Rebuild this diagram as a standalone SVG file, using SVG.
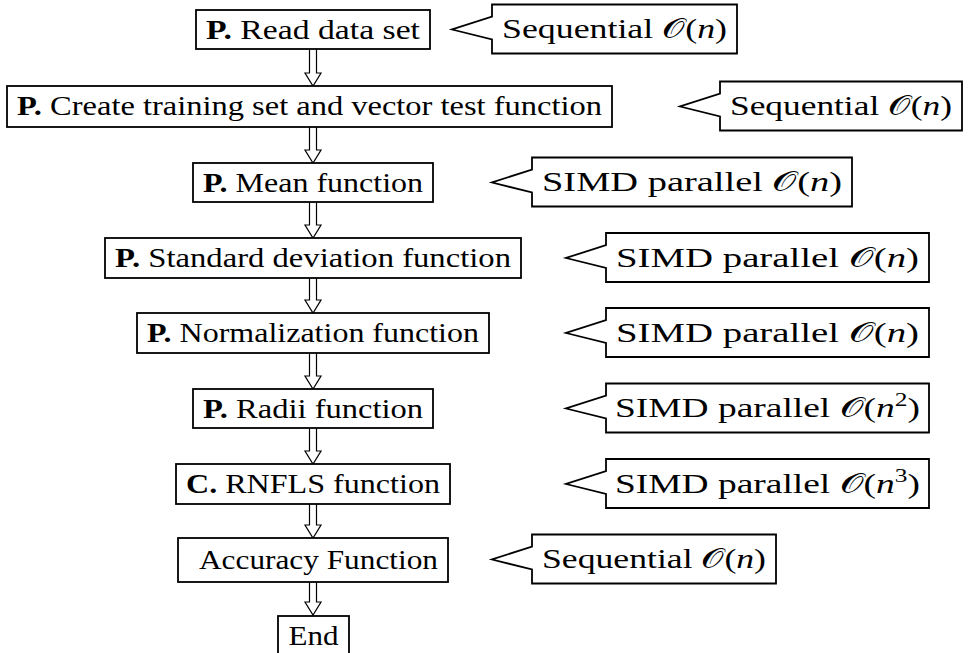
<svg xmlns="http://www.w3.org/2000/svg" width="969" height="653" viewBox="0 0 969 653">
<style>
  .box{fill:#fff;stroke:#000;stroke-width:1.8}
  .call{fill:#fff;stroke:#000;stroke-width:1.8;stroke-linejoin:miter}
  .t{font-family:"Liberation Serif","DejaVu Serif",serif;font-size:28px;fill:#000}
  .c{text-anchor:middle}
  .b{font-weight:bold}
  .i{font-style:italic}
  .arr{fill:#fff;stroke:#000;stroke-width:1.2;stroke-linejoin:miter}
</style>
<rect width="969" height="653" fill="#fff"/>
<g id="connectors">
  <path class="arr" d="M309.5,49 V73 H305 L313,86 L321,73 H316.5 V49"/>
  <path class="arr" d="M309.5,127 V150 H305 L313,163 L321,150 H316.5 V127"/>
  <path class="arr" d="M309.5,202 V225 H305 L313,238 L321,225 H316.5 V202"/>
  <path class="arr" d="M309.5,278 V300 H305 L313,313 L321,300 H316.5 V278"/>
  <path class="arr" d="M309.5,353 V376 H305 L313,389 L321,376 H316.5 V353"/>
  <path class="arr" d="M309.5,428 V451 H305 L313,464 L321,451 H316.5 V428"/>
  <path class="arr" d="M309.5,504 V525 H305 L313,538 L321,525 H316.5 V504"/>
  <path class="arr" d="M309.5,582 V602 H305 L313,615 L321,602 H316.5 V582"/>
</g>
<g id="n1">
  <rect class="box" x="196" y="10" width="234" height="39"/>
  <text class="t c" x="313" y="39" textLength="214" lengthAdjust="spacingAndGlyphs"><tspan class="b">P.</tspan> Read data set</text>
</g>
<g id="c1">
  <path class="call" d="M492,4.5 H737 V53.5 H492 V39.5 L452,29.5 L492,16.5 Z"/>
  <text class="t c" x="614.5" y="38" textLength="225" lengthAdjust="spacingAndGlyphs">Sequential 𝒪(<tspan class="i">n</tspan>)</text>
</g>
<g id="n2">
  <rect class="box" x="7" y="86" width="605" height="41"/>
  <text class="t c" x="309.5" y="115" textLength="585" lengthAdjust="spacingAndGlyphs"><tspan class="b">P.</tspan> Create training set and vector test function</text>
</g>
<g id="c2">
  <path class="call" d="M720,81.5 H962 V130.5 H720 V116.5 L680,106.5 L720,93.5 Z"/>
  <text class="t c" x="841" y="115" textLength="222" lengthAdjust="spacingAndGlyphs">Sequential 𝒪(<tspan class="i">n</tspan>)</text>
</g>
<g id="n3">
  <rect class="box" x="193" y="163" width="240" height="39"/>
  <text class="t c" x="313" y="191.5" textLength="220" lengthAdjust="spacingAndGlyphs"><tspan class="b">P.</tspan> Mean function</text>
</g>
<g id="c3">
  <path class="call" d="M532,157.5 H852 V206.5 H532 V192.5 L492,182.5 L532,169.5 Z"/>
  <text class="t c" x="692" y="191" textLength="300" lengthAdjust="spacingAndGlyphs">SIMD parallel 𝒪(<tspan class="i">n</tspan>)</text>
</g>
<g id="n4">
  <rect class="box" x="105" y="238" width="416" height="40"/>
  <text class="t c" x="313" y="267" textLength="396" lengthAdjust="spacingAndGlyphs"><tspan class="b">P.</tspan> Standard deviation function</text>
</g>
<g id="c4">
  <path class="call" d="M606,233 H929 V282 H606 V268 L566,258 L606,245 Z"/>
  <text class="t c" x="767.5" y="266.5" textLength="303" lengthAdjust="spacingAndGlyphs">SIMD parallel 𝒪(<tspan class="i">n</tspan>)</text>
</g>
<g id="n5">
  <rect class="box" x="137" y="313" width="352" height="40"/>
  <text class="t c" x="313" y="342" textLength="332" lengthAdjust="spacingAndGlyphs"><tspan class="b">P.</tspan> Normalization function</text>
</g>
<g id="c5">
  <path class="call" d="M606,308 H929 V357 H606 V343 L566,333 L606,320 Z"/>
  <text class="t c" x="767.5" y="341.5" textLength="303" lengthAdjust="spacingAndGlyphs">SIMD parallel 𝒪(<tspan class="i">n</tspan>)</text>
</g>
<g id="n6">
  <rect class="box" x="193" y="389" width="240" height="39"/>
  <text class="t c" x="313" y="417.5" textLength="220" lengthAdjust="spacingAndGlyphs"><tspan class="b">P.</tspan> Radii function</text>
</g>
<g id="c6">
  <path class="call" d="M606,383.5 H929 V432.5 H606 V418.5 L566,408.5 L606,395.5 Z"/>
  <text class="t c" x="767.5" y="417" textLength="305" lengthAdjust="spacingAndGlyphs">SIMD parallel 𝒪(<tspan class="i">n</tspan><tspan font-size="19" dy="-11">2</tspan><tspan dy="11">)</tspan></text>
</g>
<g id="n7">
  <rect class="box" x="176" y="464" width="274" height="40"/>
  <text class="t c" x="313" y="493" textLength="254" lengthAdjust="spacingAndGlyphs"><tspan class="b">C.</tspan> RNFLS function</text>
</g>
<g id="c7">
  <path class="call" d="M606,459 H929 V508 H606 V494 L566,484 L606,471 Z"/>
  <text class="t c" x="767.5" y="492.5" textLength="305" lengthAdjust="spacingAndGlyphs">SIMD parallel 𝒪(<tspan class="i">n</tspan><tspan font-size="19" dy="-11">3</tspan><tspan dy="11">)</tspan></text>
</g>
<g id="n8">
  <rect class="box" x="178" y="538" width="270" height="44"/>
  <text class="t" x="199" y="569" textLength="239" lengthAdjust="spacingAndGlyphs">Accuracy Function</text>
</g>
<g id="c8">
  <path class="call" d="M532,534.5 H776 V583.5 H532 V569.5 L492,559.5 L532,546.5 Z"/>
  <text class="t c" x="654" y="568" textLength="224" lengthAdjust="spacingAndGlyphs">Sequential 𝒪(<tspan class="i">n</tspan>)</text>
</g>
<g id="n9">
  <rect class="box" x="278" y="616" width="71" height="46"/>
  <text class="t c" x="313.5" y="645" textLength="50" lengthAdjust="spacingAndGlyphs">End</text>
</g>
</svg>
